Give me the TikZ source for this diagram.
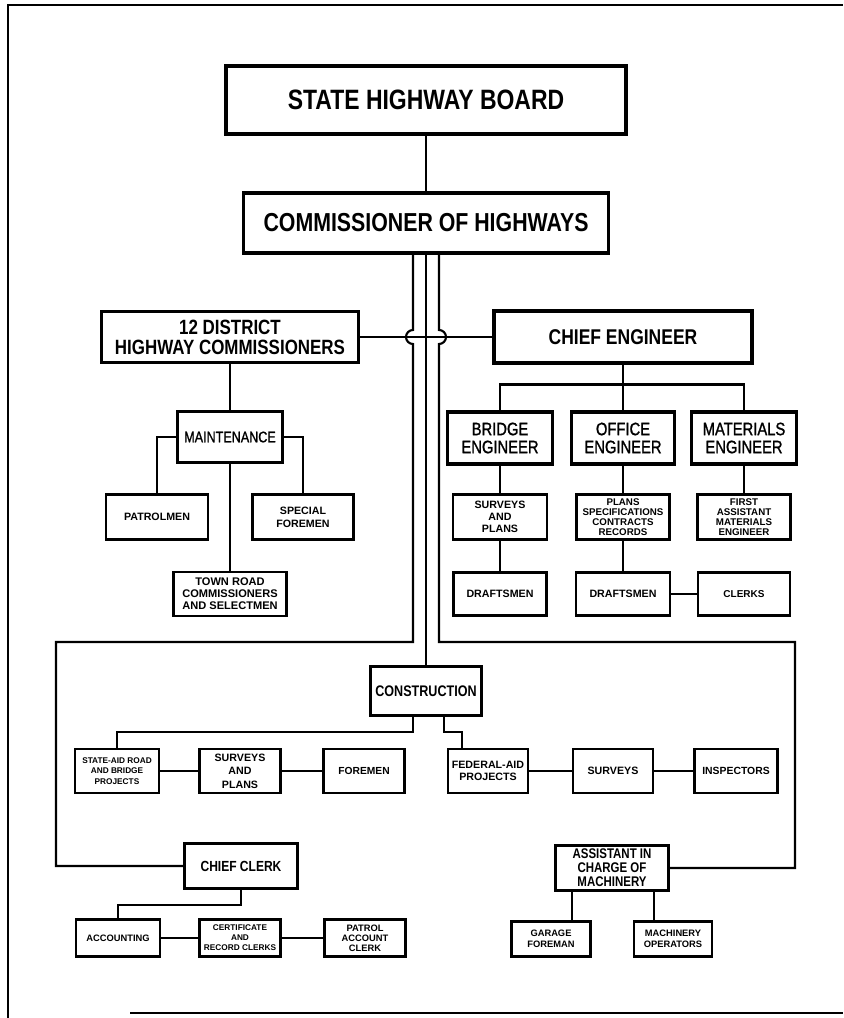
\documentclass[tikz,border=0pt]{standalone}
\usepackage{fontspec}
\usetikzlibrary{calc}
\newfontfamily\chartcn{Liberation Sans}[FakeStretch=0.82]
\newfontfamily\chartmd{Liberation Sans}[FakeStretch=0.82,FakeBold=1.2]
\newfontfamily\chartwd{Liberation Sans}

\tikzset{
    bigbox/.style={draw, line width=2.4pt, align=center, inner sep=0pt},
    smallbox/.style={draw, line width=1.6pt, align=center, inner sep=0pt},
    wh/.style 2 args={minimum width=#1*0.75pt, minimum height=#2*0.75pt},
    fbf/.style 2 args={font=\chartcn\bfseries\fontsize{#1}{#2}\selectfont},
    frm/.style 2 args={font=\chartmd\fontsize{#1}{#2}\selectfont},
    fsm/.style 2 args={font=\chartwd\bfseries\fontsize{#1}{#2}\selectfont},
    link/.style={line width=2pt},
    trunk/.style={line width=2.2pt},
    outer/.style={line width=1.6pt},
    frame/.style={line width=1.2pt}
}

\begin{document}
\begin{tikzpicture}[x=0.75pt,y=0.75pt,yscale=-1,xscale=1]
    \useasboundingbox (0,0) rectangle (843,1018);
    
    %Frame
    \draw [frame] (8,1018) -- (8,5) -- (843,5) ;
    \draw [frame] (130,1013) -- (843,1013) ;
    
    % Top boxes
    \node [bigbox, wh={400}{68}, fbf={21}{24}] (board) at (426,100) {STATE HIGHWAY BOARD};
    \node [bigbox, wh={365}{60}, fbf={19.5}{22}] (comm) at (426,223) {COMMISSIONER OF HIGHWAYS};
    \node [bigbox, wh={257}{51}, fbf={15.5}{15}] (district) at (230,337) {12 DISTRICT\\HIGHWAY COMMISSIONERS};
    \node [bigbox, wh={258}{52}, fbf={16}{18}] (chief) at (623,337) {CHIEF ENGINEER};
    
    % Maintenance side
    \node [bigbox, wh={105}{51}, frm={11.5}{13}] (maint) at (230,437) {MAINTENANCE};
    \node [smallbox, wh={102}{45}, fsm={8}{9}] (patrol) at (157,517) {PATROLMEN};
    \node [smallbox, wh={101}{45}, fsm={8}{9.5}] (special) at (303,517) {SPECIAL\\FOREMEN};
    \node [smallbox, wh={113}{44}, fsm={8.3}{9}] (town) at (230,594) {TOWN ROAD\\COMMISSIONERS\\AND SELECTMEN};
    
    % Engineer side
    \node [bigbox, wh={105}{52}, frm={13.5}{13.5}] (bridge) at (500,438) {BRIDGE\\ENGINEER};
    \node [bigbox, wh={103}{52}, frm={13.5}{13.5}] (office) at (623,438) {OFFICE\\ENGINEER};
    \node [bigbox, wh={105}{52}, frm={13.5}{13.5}] (materials) at (744,438) {MATERIALS\\ENGINEER};
    \node [smallbox, wh={94}{45}, fsm={8}{9}] (bsurveys) at (500,517) {SURVEYS\\AND\\PLANS};
    \node [smallbox, wh={93}{45}, fsm={7.3}{7.6}] (oplans) at (623,517) {PLANS\\SPECIFICATIONS\\CONTRACTS\\RECORDS};
    \node [smallbox, wh={93}{45}, fsm={7.3}{7.6}] (firstasst) at (744,517) {FIRST\\ASSISTANT\\MATERIALS\\ENGINEER};
    \node [smallbox, wh={93}{43}, fsm={8}{9}] (bdraft) at (500,594) {DRAFTSMEN};
    \node [smallbox, wh={94}{43}, fsm={8}{9}] (odraft) at (623,594) {DRAFTSMEN};
    \node [smallbox, wh={92}{43}, fsm={7.5}{9}] (clerks) at (744,594) {CLERKS};
    
    % Construction
    \node [bigbox, wh={111}{49}, fbf={11.5}{13}] (constr) at (426,691) {CONSTRUCTION};
    \node [smallbox, wh={84}{44}, fsm={6.2}{8}] (stateaid) at (117,771) {STATE-AID ROAD\\AND BRIDGE\\PROJECTS};
    \node [smallbox, wh={81}{44}, fsm={8}{10}] (csurveys) at (240,771) {SURVEYS\\AND\\PLANS};
    \node [smallbox, wh={81}{44}, fsm={7.7}{9}] (foremen) at (364,771) {FOREMEN};
    \node [smallbox, wh={80}{44}, fsm={8}{9.5}] (federal) at (488,771) {FEDERAL-AID\\PROJECTS};
    \node [smallbox, wh={80}{44}, fsm={8}{9}] (fsurveys) at (613,771) {SURVEYS};
    \node [smallbox, wh={83}{44}, fsm={7.8}{9}] (inspectors) at (736,771) {INSPECTORS};
    
    % Clerk and machinery
    \node [bigbox, wh={113}{45}, fbf={11}{12}] (clerk) at (241,866) {CHIEF CLERK};
    \node [bigbox, wh={113}{45}, fbf={10.5}{10.6}] (machinery) at (612,868) {ASSISTANT IN\\CHARGE OF\\MACHINERY};
    \node [smallbox, wh={84}{37}, fsm={7}{8}] (accounting) at (118,938) {ACCOUNTING};
    \node [smallbox, wh={81}{37}, fsm={6.2}{7.6}] (certificate) at (240,938) {CERTIFICATE\\AND\\RECORD CLERKS};
    \node [smallbox, wh={81}{37}, fsm={7}{7.6}] (patrolacct) at (365,938) {PATROL\\ACCOUNT\\CLERK};
    \node [smallbox, wh={79}{35}, fsm={7}{8.5}] (garage) at (551,939) {GARAGE\\FOREMAN};
    \node [smallbox, wh={78}{35}, fsm={7}{8.5}] (operators) at (673,939) {MACHINERY\\OPERATORS};
    
    %Straight Lines
    \coordinate (trunkL) at ($(comm.south)+(-13,0)$);
    \coordinate (trunkR) at ($(comm.south)+(13,0)$);
    \coordinate (loopL) at (56,642);
    \coordinate (loopR) at (795,642);
    \draw [link] (board.south) -- (comm.north) ;
    \draw [trunk] (comm.south) -- (constr.north) ;
    \draw [link] (district.east) -- (chief.west) ;
    \draw [outer] (trunkL) -- ($(trunkL |- district.east)+(0,-7)$) arc [start angle=270, end angle=90, radius=7] -- (trunkL |- loopL) -- (loopL) |- (clerk.west) ;
    \draw [outer] (trunkR) -- ($(trunkR |- district.east)+(0,-7)$) arc [start angle=270, end angle=450, radius=7] -- (trunkR |- loopR) -- (loopR) |- (machinery.east) ;
    
    \draw [link] (district.south) -- (maint.north) ;
    \draw [link] (maint.west) -| (patrol.north) ;
    \draw [link] (maint.east) -| (special.north) ;
    \draw [link] (maint.south) -- (town.north) ;
    
    \draw [link] (chief.south) -- (office.north) ;
    \draw [link] (bridge.north) -- ++(0,-26) -| (materials.north) ;
    \draw [link] (bridge.south) -- (bsurveys.north) ;
    \draw [link] (bsurveys.south) -- (bdraft.north) ;
    \draw [link] (office.south) -- (oplans.north) ;
    \draw [link] (oplans.south) -- (odraft.north) ;
    \draw [link] (materials.south) -- (firstasst.north) ;
    \draw [link] (odraft.east) -- (clerks.west) ;
    
    \coordinate (cL) at ($(constr.south)+(-13,0)$);
    \coordinate (cR) at ($(constr.south)+(18,0)$);
    \draw [link] (cL) -- ++(0,15) -| (stateaid.north) ;
    \draw [link] (cR) -- ++(0,15) -| ($(federal.north)+(-26,0)$) ;
    \draw [link] (stateaid.east) -- (csurveys.west) ;
    \draw [link] (csurveys.east) -- (foremen.west) ;
    \draw [link] (federal.east) -- (fsurveys.west) ;
    \draw [link] (fsurveys.east) -- (inspectors.west) ;
    
    \draw [link] (clerk.south) -- ++(0,15) -| (accounting.north) ;
    \draw [link] (accounting.east) -- (certificate.west) ;
    \draw [link] (certificate.east) -- (patrolacct.west) ;
    \coordinate (mL) at ($(machinery.south)+(-40,0)$);
    \coordinate (mR) at ($(machinery.south)+(42,0)$);
    \draw [link] (mL) -- (mL |- garage.north) ;
    \draw [link] (mR) -- (mR |- operators.north) ;
    
\end{tikzpicture}
\end{document}
